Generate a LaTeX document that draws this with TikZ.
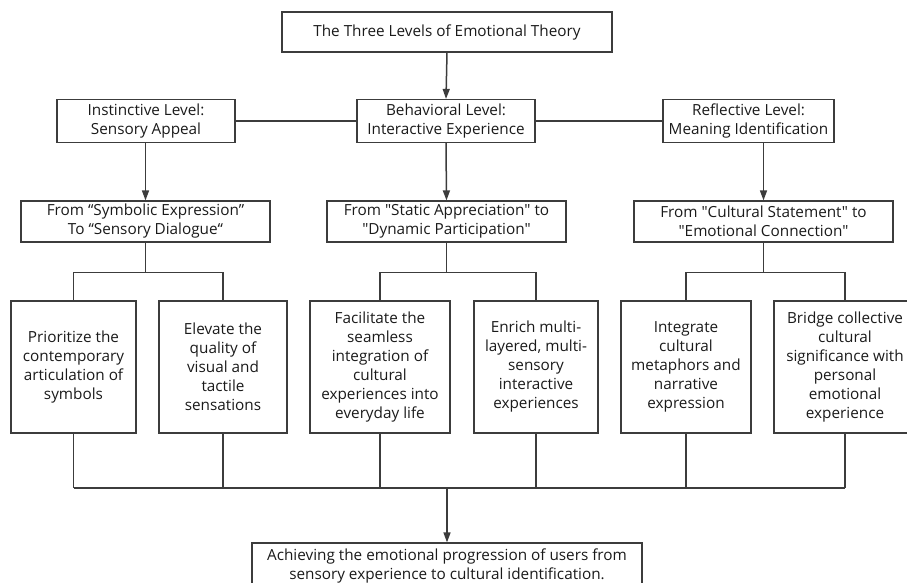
\documentclass[tikz,border=0pt]{standalone}
\usepackage{fontspec}
\setmainfont{Open Sans}[Ligatures=TeXOff]
\usetikzlibrary{arrows.meta,calc}
\definecolor{ln}{HTML}{3C3C3C}
\definecolor{tx}{HTML}{1A1A1A}
\tikzset{
  box/.style={draw=ln, line width=1.2pt, rectangle, inner sep=0pt, align=center, text=tx,
     font=\fontsize{15.3}{19}\selectfont},
  conn/.style={draw=ln, line width=1.5pt},
  thin/.style={draw=ln, line width=1.1pt},
  arr/.style={draw=ln, line width=1.5pt, -{Triangle[length=10pt,width=7pt]}},
}
\begin{document}
\begin{tikzpicture}[x=1pt,y=-1pt]
\useasboundingbox (0,0) rectangle (907,582);
% top
\node[box, minimum width=330, minimum height=40] (top) at (447,32) {The Three Levels of Emotional Theory};
% level
\node[box, minimum width=178, minimum height=43] (ins) at (146,121) {Instinctive Level:\\Sensory Appeal};
\node[box, minimum width=178, minimum height=43] (beh) at (446,121) {Behavioral Level:\\Interactive Experience};
\node[box, minimum width=171, minimum height=43] (ref) at (748.5,121) {Reflective Level:\\Meaning Identification};
% second level
\node[box, minimum width=249, minimum height=41] (l2) at (145.5,221.5) {From “Symbolic Expression”\\To “Sensory Dialogue“};
\node[box, minimum width=239, minimum height=41] (m2) at (446.5,221.5) {From "Static Appreciation" to\\"Dynamic Participation"};
\node[box, minimum width=259, minimum height=41] (r2) at (763.5,221.5) {From "Cultural Statement" to\\"Emotional Connection"};
% bottom boxes
\node[box, minimum width=125, minimum height=132] (b1) at (73.5,367) {Prioritize the\\contemporary\\articulation of\\symbols};
\node[box, minimum width=128, minimum height=132] (b2) at (223,367) {Elevate the\\quality of\\visual and\\tactile\\sensations};
\node[box, minimum width=140, minimum height=132] (b3) at (380,367) {Facilitate the\\seamless\\integration of\\cultural\\experiences into\\everyday life};
\node[box, minimum width=124, minimum height=132] (b4) at (536,367) {Enrich multi-\\layered, multi-\\sensory\\interactive\\experiences};
\node[box, minimum width=130, minimum height=132] (b5) at (686,367) {Integrate\\cultural\\metaphors and\\narrative\\expression};
\node[box, minimum width=142, minimum height=132] (b6) at (845,367) {Bridge collective\\cultural\\significance with\\personal\\emotional\\experience};
% final
\node[box, minimum width=390, minimum height=45] (fin) at (447,565.5) {Achieving the emotional progression of users from\\sensory experience to cultural identification.};
% connectors
\draw[arr] (top.south) -- (beh.north);
\draw[conn] (ins.east) -- (beh.west);
\draw[conn] (beh.east) -- (ref.west);
\draw[arr] (ins.south -| l2.north) -- (l2.north);
\draw[arr] (beh.south) -- (m2.north);
\draw[arr] (ref.south -| r2.north) -- (r2.north);
% branches
\coordinate (lj) at ($(l2.south)+(0,30)$);
\coordinate (mj) at ($(m2.south)+(0,30)$);
\coordinate (rj) at ($(r2.south)+(0,30)$);
\draw[conn] (l2.south) -- (lj);
\draw[conn] (b1.north) |- (lj) -| (b2.north);
\draw[conn] (m2.south) -- (mj);
\draw[conn] (b3.north) |- (mj) -| (b4.north);
\draw[conn] (r2.south) -- (rj);
\draw[conn] (b5.north) |- (rj) -| (b6.north);
% merge
\coordinate (bj) at (447,488);
\draw[thin] (b1.south) -- (b1.south |- bj);
\draw[thin] (b2.south) -- (b2.south |- bj);
\draw[thin] (b3.south) -- (b3.south |- bj);
\draw[thin] (b4.south) -- (b4.south |- bj);
\draw[thin] (b5.south) -- (b5.south |- bj);
\draw[thin] (b6.south) -- (b6.south |- bj);
\draw[conn] (b1.south |- bj) -- (b6.south |- bj);
\draw[arr] (bj) -- (fin.north);
\end{tikzpicture}
\end{document}
